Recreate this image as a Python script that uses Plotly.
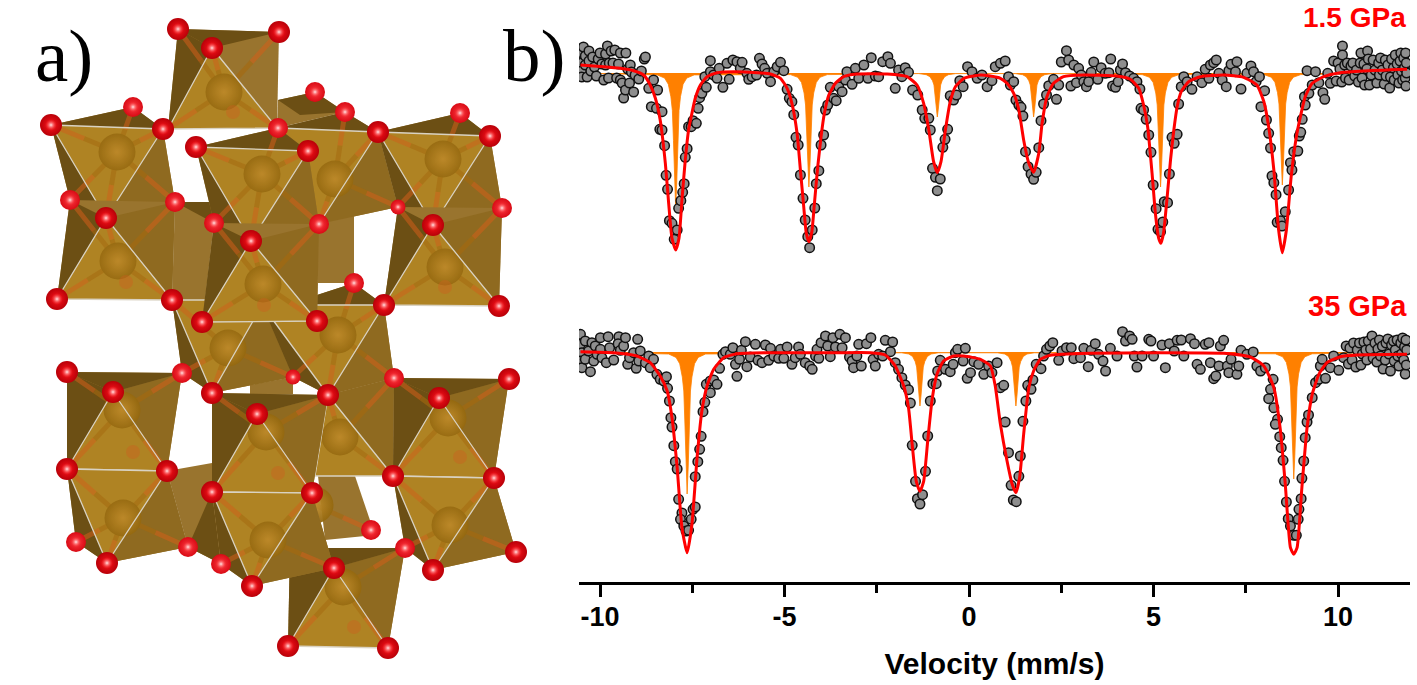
import numpy as np
import plotly.graph_objects as go

# spectra: (velocity mm/s, relative transmission %)
top_points = [
    (-10.5, 2.0), (-10.5, 1.0), (-10.5, 0.2), (-10.5, -0.4), (-10.45, 2.6), (-10.4, 1.7), (-10.4, 0.8), (-10.35, -0.4),
    (-10.3, 2.2), (-10.3, 1.2), (-10.25, 0.2), (-10.2, 1.6), (-10.15, 0.6), (-10.1, -0.3), (-10.05, 1.4), (-10.0, 2.0),
    (-9.95, 0.9), (-9.9, -0.7), (-9.85, 1.9), (-9.85, 0.8), (-9.8, 2.7), (-9.77, -0.5), (-9.75, 1.0), (-9.7, 2.2),
    (-9.65, 1.0), (-9.6, 2.3), (-9.55, -0.5), (-9.5, 0.9), (-9.45, 2.0), (-9.45, -0.7), (-9.4, -1.0), (-9.36, -2.5),
    (-9.31, -1.7), (-9.3, 2.0), (-9.25, 0.4), (-9.2, -1.0), (-9.18, 0.8), (-9.15, 0.1), (-9.09, -1.9), (-9.05, -0.2),
    (-8.95, -0.6), (-8.88, 0.2), (-8.8, 1.4), (-8.77, 1.6), (-8.68, -1.53), (-8.61, -3.37), (-8.55, -0.7), (-8.47, -3.53),
    (-8.44, -1.7), (-8.38, -5.63), (-8.32, -3.87), (-8.32, -5.7), (-8.25, -7.27), (-8.21, -10.23), (-8.17, -11.63),
    (-8.12, -14.77), (-8.05, -15.03), (-7.99, -16.63), (-7.91, -15.7), (-7.87, -13.53), (-7.81, -12.77), (-7.76, -11.93),
    (-7.72, -11.07), (-7.69, -8.43), (-7.64, -7.57), (-7.6, -5.37), (-7.53, -5.37), (-7.48, -4.77), (-7.39, -5.03),
    (-7.34, -3.53), (-7.3, -2.47), (-7.24, -2.03), (-7.16, -0.37), (-7.12, -1.43), (-7.01, 0.13), (-7.01, 1.23),
    (-6.92, -0.2), (-6.83, -0.53), (-6.77, 0.47), (-6.67, -1.43), (-6.56, 0.97), (-6.5, -0.63), (-6.4, 1.3), (-6.29, 1.13),
    (-6.2, 0.47), (-6.15, 1.07), (-6.02, -0.03), (-5.97, -0.63), (-5.88, -0.37), (-5.76, -0.2), (-5.68, 1.47), (-5.61, 0.9),
    (-5.54, 0.47), (-5.47, -0.03), (-5.38, -0.87), (-5.29, 0.13), (-5.2, 0.63), (-5.11, 1.07), (-5.02, 0.23), (-4.93, -1.63),
    (-4.87, -2.53), (-4.8, -2.87), (-4.75, -4.17), (-4.69, -6.43), (-4.63, -7.2), (-4.57, -10.2), (-4.5, -12.53),
    (-4.44, -14.7), (-4.37, -16.37), (-4.32, -17.47), (-4.25, -15.7), (-4.18, -13.5), (-4.14, -11.07), (-4.07, -9.77),
    (-4.01, -7.2), (-3.94, -6.2), (-3.89, -3.7), (-3.83, -3.2), (-3.76, -1.43), (-3.67, -2.53), (-3.6, -2.77), (-3.53, -1.37),
    (-3.44, -1.87), (-3.35, -0.7), (-3.31, 0.13), (-3.17, -1.13), (-3.08, 0.47), (-2.99, -0.53), (-2.85, 0.8), (-2.74, -0.53),
    (-2.65, 1.53), (-2.54, -0.3), (-2.45, -0.37), (-2.34, 1.13), (-2.2, 1.63), (-2.13, 0.97), (-2.0, -1.53), (-1.91, 0.3),
    (-1.82, -0.37), (-1.73, 0.53), (-1.64, 0.07), (-1.53, -1.7), (-1.39, -2.2), (-1.27, -3.7), (-1.2, -4.53), (-1.09, -4.53),
    (-1.05, -5.7), (-0.99, -9.53), (-0.91, -10.43), (-0.86, -11.77), (-0.78, -10.6), (-0.71, -7.43), (-0.65, -6.63),
    (-0.58, -5.63), (-0.51, -2.27), (-0.42, -2.7), (-0.34, -2.2), (-0.25, -0.77), (-0.16, -1.37), (-0.04, 0.63), (0.08, 0.13),
    (0.22, -0.53), (0.35, -0.2), (0.49, -1.37), (0.62, -0.77), (0.71, 0.63), (0.85, 0.97), (0.98, 1.2), (1.07, -0.37),
    (1.12, -1.2), (1.21, -0.87), (1.27, -2.7), (1.35, -3.2), (1.41, -3.43), (1.46, -4.3), (1.53, -7.87), (1.6, -9.37),
    (1.68, -10.1), (1.75, -10.63), (1.82, -9.93), (1.89, -7.47), (1.95, -4.77), (2.02, -3.1), (2.1, -2.2), (2.16, -1.27),
    (2.29, -0.63), (2.37, -2.63), (2.43, -1.2), (2.5, 1.1), (2.64, 2.23), (2.7, 1.3), (2.76, -1.3), (2.84, 0.8), (2.91, -0.97),
    (2.97, 0.47), (3.04, -0.2), (3.11, -0.87), (3.18, -1.37), (3.24, -0.87), (3.31, 0.07), (3.38, 1.1), (3.49, -0.63),
    (3.58, 0.53), (3.69, -0.03), (3.79, 0.03), (3.84, 1.4), (3.89, -1.3), (3.97, -1.43), (4.04, -0.87), (4.1, 0.3), (4.16, 0.9),
    (4.24, 0.03), (4.35, -0.3), (4.46, -0.53), (4.55, -0.87), (4.63, -1.6), (4.66, -3.53), (4.73, -3.7), (4.8, -4.63),
    (4.87, -6.2), (4.93, -7.93), (4.99, -11.2), (5.07, -13.57), (5.12, -15.63), (5.19, -15.87), (5.25, -14.9), (5.29, -12.87),
    (5.38, -12.97), (5.43, -10.1), (5.5, -6.43), (5.56, -7.03), (5.64, -6.13), (5.68, -3.1), (5.75, -1.37), (5.82, -0.37),
    (5.91, -0.87), (6.04, -1.63), (6.18, -0.37), (6.31, -0.97), (6.4, 0.37), (6.5, -0.53), (6.54, 0.8), (6.63, 1.03), (6.7, 1.3),
    (6.77, -0.03), (6.86, -0.7), (6.97, -1.37), (7.04, 0.23), (7.1, 0.87), (7.22, 0.13), (7.26, 1.13), (7.37, -1.6),
    (7.53, -0.03), (7.64, 0.7), (7.71, 0.13), (7.78, -0.87), (7.87, -0.37), (7.91, -3.37), (8.01, -1.77), (8.06, -4.7),
    (8.12, -6.03), (8.17, -7.5), (8.21, -10.3), (8.26, -10.97), (8.32, -12.17), (8.35, -14.93), (8.44, -14.77), (8.48, -15.3),
    (8.57, -13.87), (8.66, -11.7), (8.71, -8.97), (8.75, -9.7), (8.8, -7.87), (8.91, -7.8), (8.95, -6.3), (8.99, -5.93),
    (9.03, -4.63), (9.09, -2.37), (9.11, -3.2), (9.16, 0.23), (9.21, -2.03), (9.3, -1.2), (9.39, 0.13), (9.48, -0.97),
    (9.59, -1.97), (9.64, -2.63), (9.72, -0.03), (9.79, -1.03), (9.88, 1.2), (9.95, -0.8), (10.0, 1.0), (10.05, 0.4),
    (10.1, -0.9), (10.12, 2.7), (10.12, 1.8), (10.18, 0.8), (10.2, -0.5), (10.25, 1.0), (10.3, -0.7), (10.35, 0.7), (10.4, 1.0),
    (10.45, -0.3), (10.5, 0.3), (10.55, -0.9), (10.6, 1.0), (10.62, 2.0), (10.65, -0.5), (10.7, 0.9), (10.72, -1.2), (10.78, 0.4),
    (10.8, 2.2), (10.82, 1.4), (10.85, -1.2), (10.9, -0.2), (10.95, 1.3), (11.0, 0.3), (11.05, -1.0), (11.1, 1.0), (11.12, -0.2),
    (11.15, 1.5), (11.2, 0.3), (11.25, -1.1), (11.28, 1.3), (11.3, -0.3), (11.35, 0.8), (11.4, -1.5), (11.42, -0.4), (11.45, 1.4),
    (11.5, 0.5), (11.52, -0.7), (11.55, 1.8), (11.6, 0.9), (11.62, -0.2), (11.65, -1.0), (11.68, 1.2), (11.7, 2.0), (11.72, 0.2),
    (11.75, -0.7), (11.78, 1.5), (11.8, 0.5), (11.82, -0.5), (11.83, 2.0), (11.84, -1.3), (11.85, 1.0), (11.86, 0.0),
]
bottom_points = [
    (-10.53, 1.77), (-10.53, 0.77), (-10.49, -0.07), (-10.53, -0.9), (-10.49, -1.57), (-10.4, 1.1), (-10.4, -0.73), (-10.26, -1.97),
    (-10.31, 0.1), (-10.22, 0.93), (-10.13, 0.6), (-10.17, -0.9), (-9.99, 1.43), (-10.08, -0.23), (-9.99, 0.27), (-9.95, -0.57),
    (-9.83, -1.07), (-9.78, 1.53), (-9.74, 0.43), (-9.63, -0.8), (-9.49, 1.53), (-9.51, 0.83), (-9.45, 0.17), (-9.36, 0.6),
    (-9.31, 1.43), (-9.25, -1.23), (-9.2, -0.57), (-9.09, -0.07), (-9.02, -1.63), (-8.98, 1.27), (-8.95, -0.9), (-8.91, 0.1),
    (-8.77, -1.07), (-8.68, -0.4), (-8.64, -1.57), (-8.55, -0.73), (-8.46, -2.23), (-8.37, -2.73), (-8.27, -2.9), (-8.2, -2.47),
    (-8.17, -3.63), (-8.12, -4.9), (-8.08, -6.57), (-8.05, -7.5), (-8.0, -9.37), (-7.96, -10.97), (-7.91, -11.7), (-7.87, -14.73),
    (-7.78, -16.1), (-7.82, -16.73), (-7.73, -17.4), (-7.67, -17.9), (-7.6, -17.83), (-7.53, -16.73), (-7.48, -15.73), (-7.42, -15.5),
    (-7.42, -12.47), (-7.35, -10.97), (-7.3, -9.73), (-7.26, -8.43), (-7.21, -5.97), (-7.16, -5.03), (-7.01, -4.07), (-7.12, -3.23),
    (-7.01, -2.9), (-6.92, -2.8), (-6.83, -3.23), (-6.76, -1.63), (-6.67, -0.23), (-6.6, 0.03), (-6.47, -0.23), (-6.4, 0.43),
    (-6.33, -1.23), (-6.29, -2.43), (-6.22, -0.73), (-6.17, 0.17), (-6.06, 1.03), (-6.02, -1.47), (-5.93, -0.5), (-5.79, 0.77),
    (-5.72, -0.83), (-5.61, -1.07), (-5.52, 0.7), (-5.43, -0.83), (-5.38, 0.37), (-5.29, -0.4), (-5.16, -0.63), (-5.11, 0.27),
    (-5.02, -0.63), (-4.93, 0.5), (-4.8, -1.23), (-4.71, -0.57), (-4.62, 0.5), (-4.57, -0.23), (-4.44, -1.07), (-4.32, -1.4),
    (-4.25, -1.73), (-4.16, -0.4), (-4.07, -0.63), (-4.12, 0.27), (-4.01, 0.93), (-3.89, 1.6), (-3.83, 0.6), (-3.76, -0.47),
    (-3.69, 1.43), (-3.62, 0.5), (-3.5, 1.77), (-3.44, 0.43), (-3.35, 1.43), (-3.24, -0.5), (-3.17, -0.9), (-3.13, -1.57),
    (-3.04, -0.4), (-2.99, 0.77), (-2.92, -1.4), (-2.78, 0.83), (-2.66, 1.43), (-2.6, -0.73), (-2.54, -1.4), (-2.45, -0.23),
    (-2.34, -0.4), (-2.27, 1.17), (-2.13, 0.03), (-2.07, 1.0), (-2.0, -1.07), (-1.91, -1.73), (-1.82, -2.57), (-1.73, -3.3),
    (-1.64, -3.77), (-1.59, -5.1), (-1.54, -9.33), (-1.45, -12.93), (-1.4, -14.67), (-1.33, -15.2), (-1.26, -14.27), (-1.18, -11.93),
    (-1.12, -8.4), (-1.05, -4.9), (-0.98, -3.17), (-0.89, -3.17), (-0.85, -1.9), (-0.78, -0.83), (-0.64, -1.73), (-0.51, -1.97),
    (-0.43, -1.23), (-0.37, -0.07), (-0.31, 0.27), (-0.16, -0.9), (-0.1, 0.37), (-0.05, -2.63), (0.04, -2.07), (0.13, -0.97),
    (0.26, -1.23), (0.4, -2.23), (0.53, -1.4), (0.76, -1.07), (0.62, -2.07), (0.85, -3.57), (0.94, -3.33), (0.98, -7.0),
    (1.07, -10.07), (1.14, -13.33), (1.2, -14.8), (1.28, -14.97), (1.35, -12.43), (1.39, -10.4), (1.46, -6.93), (1.54, -4.9),
    (1.59, -3.33), (1.68, -3.73), (1.73, -2.8), (1.82, -1.23), (1.95, -1.67), (2.02, -0.4), (2.1, 0.27), (2.19, 0.6), (2.27, 0.93),
    (2.43, -0.83), (2.52, 0.1), (2.64, 0.43), (2.77, 0.43), (2.84, -0.67), (3.02, -0.57), (3.11, 0.37), (3.23, -1.47), (3.31, 0.17),
    (3.42, 0.83), (3.51, -0.23), (3.63, -0.9), (3.7, -1.9), (3.83, 0.37), (4.01, -0.4), (4.16, 2.03), (4.24, 1.1), (4.35, 1.6),
    (4.42, 1.27), (4.48, -0.4), (4.55, -1.5), (4.69, -0.4), (4.87, 1.27), (4.93, 1.1), (5.0, -0.4), (5.23, 0.7), (5.32, -1.57),
    (5.43, 0.83), (5.56, 0.1), (5.64, 1.17), (5.75, 1.2), (5.82, -0.4), (6.0, 1.33), (6.11, 0.83), (6.18, -1.23), (6.27, -1.73),
    (6.4, 0.77), (6.5, 0.93), (6.54, -1.07), (6.63, -2.67), (6.69, -2.4), (6.77, -1.4), (6.81, 0.6), (6.9, 1.17), (7.0, -1.4),
    (7.04, -2.07), (7.1, -0.73), (7.26, -2.23), (7.31, -1.4), (7.37, 0.17), (7.53, -0.23), (7.7, 0.0), (7.8, -1.4), (7.9, -1.9),
    (8.03, -1.57), (8.17, -3.73), (8.24, -2.73), (8.12, -4.67), (8.26, -5.57), (8.36, -6.73), (8.3, -7.23), (8.42, -8.47),
    (8.46, -9.57), (8.51, -10.83), (8.55, -12.93), (8.6, -15.0), (8.65, -16.67), (8.71, -17.4), (8.8, -18.33), (8.87, -18.33),
    (8.92, -16.73), (8.94, -15.73), (9.0, -14.67), (9.02, -12.63), (9.07, -10.9), (9.11, -8.57), (9.16, -7.0), (9.2, -6.3),
    (9.3, -4.57), (9.39, -3.07), (9.48, -2.73), (9.52, -1.4), (9.57, -0.73), (9.66, -2.63), (9.79, -1.57), (9.88, -0.4),
    (10.02, -1.83), (10.15, -0.57), (10.22, 0.6), (10.28, -1.2), (10.32, 0.4), (10.38, -0.8), (10.42, 0.9), (10.48, -1.5),
    (10.52, 0.2), (10.58, 0.9), (10.62, -1.3), (10.66, -0.2), (10.7, 1.0), (10.75, 0.2), (10.78, -0.8), (10.82, 1.1), (10.88, 0.3),
    (10.92, 1.6), (10.95, -0.6), (11.0, 0.9), (11.05, -1.0), (11.08, 0.3), (11.12, 1.2), (11.15, -0.4), (11.2, 0.6), (11.22, -1.7),
    (11.28, -0.8), (11.3, 0.9), (11.35, 1.3), (11.38, -0.2), (11.42, -1.9), (11.45, 0.7), (11.5, 1.1), (11.52, -0.9), (11.55, 0.2),
    (11.6, 1.2), (11.62, -0.4), (11.65, -1.4), (11.7, 0.9), (11.72, -0.2), (11.75, 1.4), (11.78, -0.8), (11.8, 0.5), (11.82, -2.2),
    (11.84, 1.2), (11.85, -1.3), (11.86, 0.2),
]
top_fit = [
    (-10.53, 0.8), (-9.9, 0.63), (-9.45, 0.47), (-9.09, 0.23), (-8.82, -0.2), (-8.64, -1.2), (-8.5, -2.53), (-8.37, -4.7),
    (-8.23, -9.03), (-8.14, -13.03), (-8.05, -16.53), (-7.95, -17.7), (-7.86, -16.53), (-7.78, -12.7), (-7.69, -8.7), (-7.6, -5.7),
    (-7.51, -4.03), (-7.42, -2.53), (-7.28, -1.2), (-7.1, -0.37), (-6.83, 0.03), (-6.38, 0.13), (-5.75, 0.03), (-5.38, -0.1),
    (-5.11, -0.53), (-4.93, -1.53), (-4.8, -3.03), (-4.66, -6.03), (-4.57, -9.7), (-4.48, -13.37), (-4.41, -16.03), (-4.34, -16.87),
    (-4.26, -15.87), (-4.19, -13.03), (-4.1, -9.37), (-4.01, -6.37), (-3.92, -4.03), (-3.8, -2.2), (-3.62, -1.03), (-3.4, -0.37),
    (-3.04, -0.1), (-2.22, -0.1), (-1.68, -0.37), (-1.41, -1.2), (-1.23, -3.03), (-1.09, -5.7), (-0.96, -8.87), (-0.86, -9.97),
    (-0.76, -8.87), (-0.64, -5.7), (-0.51, -2.87), (-0.37, -1.37), (-0.14, -0.53), (0.31, -0.2), (0.58, -0.3), (0.85, -0.53),
    (1.03, -1.03), (1.21, -2.03), (1.35, -3.7), (1.48, -6.7), (1.62, -9.03), (1.75, -9.93), (1.89, -8.03), (1.98, -5.03),
    (2.11, -2.37), (2.29, -1.03), (2.56, -0.37), (3.11, -0.2), (4.01, -0.3), (4.37, -0.63), (4.6, -1.53), (4.73, -3.2), (4.84, -5.37),
    (4.96, -10.03), (5.05, -14.03), (5.14, -16.53), (5.2, -17.03), (5.27, -16.03), (5.37, -12.37), (5.46, -8.7), (5.55, -5.7),
    (5.64, -3.37), (5.75, -1.87), (5.95, -0.87), (6.27, -0.37), (6.9, -0.2), (7.44, -0.43), (7.8, -1.2), (7.99, -2.87), (8.12, -5.37),
    (8.26, -9.7), (8.39, -15.7), (8.49, -17.97), (8.6, -15.7), (8.73, -10.37), (8.87, -6.37), (8.98, -4.37), (9.11, -2.37),
    (9.3, -1.03), (9.61, -0.37), (10.06, 0.03), (10.7, 0.2), (11.87, 0.37),
]
bottom_fit = [
    (-10.53, 0.03), (-9.63, -0.07), (-9.0, -0.4), (-8.64, -1.07), (-8.37, -2.4), (-8.18, -3.9), (-8.05, -6.57), (-7.91, -11.57),
    (-7.78, -17.57), (-7.64, -20.07), (-7.51, -17.23), (-7.37, -10.57), (-7.24, -5.9), (-7.1, -3.4), (-6.92, -1.73), (-6.65, -0.57),
    (-6.29, -0.17), (-5.38, -0.07), (-3.58, -0.07), (-2.67, -0.07), (-2.27, -0.3), (-2.0, -1.4), (-1.77, -3.4), (-1.64, -5.57),
    (-1.54, -9.27), (-1.43, -12.93), (-1.33, -13.93), (-1.23, -12.93), (-1.12, -8.9), (-1.0, -4.73), (-0.87, -2.23), (-0.69, -0.9),
    (-0.42, -0.4), (-0.14, -0.4), (0.31, -0.73), (0.58, -1.4), (0.71, -3.4), (0.85, -7.23), (1.03, -10.9), (1.17, -13.23),
    (1.27, -14.07), (1.37, -12.57), (1.48, -8.23), (1.62, -3.57), (1.75, -1.9), (1.93, -0.73), (2.2, -0.33), (3.29, -0.13),
    (5.09, -0.07), (6.9, -0.13), (7.62, -0.5), (7.99, -1.4), (8.26, -3.57), (8.44, -7.9), (8.57, -13.23), (8.71, -19.57),
    (8.8, -20.23), (8.89, -19.57), (9.02, -13.57), (9.16, -7.57), (9.3, -4.23), (9.48, -2.23), (9.7, -1.07), (10.06, -0.47),
    (10.51, -0.3), (11.87, -0.23),
]
top_site = [
    (-10.57, 0), (-8.45, -0.19), (-8.25, -0.51), (-8.15, -1.12), (-8.08, -2.37), (-8.04, -3.74), (-8.01, -6.75), (-7.98, -10.8),
    (-7.95, -13.5), (-7.92, -10.8), (-7.89, -6.75), (-7.86, -3.74), (-7.82, -2.37), (-7.75, -1.12), (-7.65, -0.51), (-7.45, -0.19),
    (-4.84, -0.16), (-4.64, -0.43), (-4.54, -0.95), (-4.47, -2.0), (-4.43, -3.2), (-4.4, -5.7), (-4.37, -9.1), (-4.34, -11.4),
    (-4.31, -9.1), (-4.28, -5.7), (-4.25, -3.2), (-4.21, -2.0), (-4.14, -0.95), (-4.04, -0.43), (-3.84, -0.16),
    (-1.36, -0.06), (-1.16, -0.17), (-1.06, -0.37), (-0.99, -0.77), (-0.95, -1.2), (-0.92, -2.2), (-0.89, -3.5), (-0.86, -4.4),
    (-0.83, -3.5), (-0.8, -2.2), (-0.77, -1.2), (-0.73, -0.77), (-0.66, -0.37), (-0.56, -0.17), (-0.36, -0.06),
    (1.25, -0.06), (1.45, -0.17), (1.55, -0.37), (1.62, -0.77), (1.66, -1.2), (1.69, -2.2), (1.72, -3.5), (1.75, -4.4),
    (1.78, -3.5), (1.81, -2.2), (1.84, -1.2), (1.88, -0.77), (1.95, -0.37), (2.05, -0.17), (2.25, -0.06),
    (4.69, -0.16), (4.89, -0.43), (4.99, -0.95), (5.06, -2.0), (5.1, -3.2), (5.13, -5.7), (5.16, -9.1), (5.19, -11.4),
    (5.22, -9.1), (5.25, -5.7), (5.28, -3.2), (5.32, -2.0), (5.39, -0.95), (5.49, -0.43), (5.69, -0.16),
    (7.99, -0.16), (8.19, -0.42), (8.29, -0.93), (8.36, -1.97), (8.4, -3.1), (8.43, -5.6), (8.46, -9.0), (8.49, -11.2),
    (8.52, -9.0), (8.55, -5.6), (8.58, -3.1), (8.62, -1.97), (8.69, -0.93), (8.79, -0.42), (8.99, -0.16), (11.87, 0),
]
bottom_site = [
    (-10.57, 0), (-8.14, -0.2), (-7.94, -0.54), (-7.84, -1.18), (-7.77, -2.5), (-7.73, -3.9), (-7.7, -7.1), (-7.67, -11.4),
    (-7.64, -14.2), (-7.61, -11.4), (-7.58, -7.1), (-7.55, -3.9), (-7.51, -2.5), (-7.44, -1.18), (-7.34, -0.54), (-7.14, -0.2),
    (-1.83, -0.08), (-1.63, -0.2), (-1.53, -0.45), (-1.46, -0.95), (-1.42, -1.5), (-1.39, -2.7), (-1.36, -4.3), (-1.33, -5.4),
    (-1.3, -4.3), (-1.27, -2.7), (-1.24, -1.5), (-1.2, -0.95), (-1.13, -0.45), (-1.03, -0.2), (-0.83, -0.08),
    (0.77, -0.08), (0.97, -0.2), (1.07, -0.45), (1.14, -0.95), (1.18, -1.5), (1.21, -2.7), (1.24, -4.3), (1.27, -5.4),
    (1.3, -4.3), (1.33, -2.7), (1.36, -1.5), (1.4, -0.95), (1.47, -0.45), (1.57, -0.2), (1.77, -0.08),
    (8.3, -0.18), (8.5, -0.48), (8.6, -1.05), (8.67, -2.2), (8.71, -3.5), (8.74, -6.35), (8.77, -10.2), (8.8, -12.7),
    (8.83, -10.2), (8.86, -6.35), (8.89, -3.5), (8.93, -2.2), (9.0, -1.05), (9.1, -0.48), (9.3, -0.18), (11.87, 0),
]
bottom_offset = -27.9
major_ticks = [-10, -5, 0, 5, 10]

# crystal structure panel, measured in picture pixels
# hull, dark faces, side faces, front face, Fe centre, bonded oxygens
octahedra = [
    ([(278, 100), (315, 92), (345, 112), (277, 128)], [[(278, 100), (315, 92), (345, 112), (300, 115)]], [], None, None, []),
    ([(318, 224), (354, 215), (354, 283), (318, 283)], [], [], None, None, []),
    ([(318, 476), (355, 476), (375, 535), (325, 540)], [], [], None, (315, 505), [(371, 530)]),
    ([(250, 385), (293, 377), (293, 394), (250, 394)], [], [], None, None, []),
    ([(178, 29), (279, 32), (277, 128), (168, 129)], [[(178, 29), (279, 32), (212, 48)], [(178, 29), (212, 48), (168, 129)]], [],
     [(212, 48), (168, 129), (277, 128)], (224, 92), [(178, 29), (279, 32), (212, 48), (168, 129), (277, 128)]),
    ([(175, 202), (228, 202), (214, 223), (205, 300), (172, 300)], [[(175, 202), (228, 202), (214, 223)]], [], None, None, []),
    ([(172, 300), (265, 300), (293, 377), (212, 393), (182, 373)], [[(172, 300), (212, 393), (182, 373)]], [[(265, 300), (293, 377), (212, 393)]],
     [(172, 300), (265, 300), (212, 393)], (228, 348), [(172, 300), (212, 393), (293, 377), (182, 373)]),
    ([(262, 305), (317, 295), (354, 283), (384, 305), (394, 378), (328, 395), (293, 377)], [[(317, 295), (354, 283), (384, 305), (317, 321)], [(262, 305), (328, 395), (293, 377)]],
     [[(384, 305), (394, 378), (328, 395)]], [(262, 305), (384, 305), (328, 395)], (338, 335), [(354, 283), (384, 305), (328, 395), (394, 378), (293, 377)]),
    ([(328, 395), (394, 378), (393, 476), (315, 476)], [], [[(328, 395), (394, 378), (393, 476)]], [(328, 395), (393, 476), (315, 476)], (340, 437),
     [(328, 395), (394, 378), (393, 476)]),
    ([(51, 125), (133, 107), (163, 129), (175, 202), (106, 218), (70, 200)], [[(51, 125), (133, 107), (163, 129)], [(51, 125), (106, 218), (70, 200)]],
     [[(163, 129), (175, 202), (106, 218)]], [(51, 125), (163, 129), (106, 218)], (117, 152), [(51, 125), (133, 107), (163, 129), (70, 200), (106, 218), (175, 202)]),
    ([(70, 200), (175, 202), (172, 300), (57, 299)], [[(70, 200), (106, 218), (57, 299)]], [[(106, 218), (175, 202), (172, 300)]],
     [(106, 218), (57, 299), (172, 300)], (118, 261), [(57, 299), (172, 300), (106, 218), (70, 200), (175, 202)]),
    ([(278, 128), (345, 112), (378, 132), (398, 207), (319, 224), (308, 151)], [[(278, 128), (345, 112), (378, 132)]], [[(378, 132), (398, 207), (319, 224)]],
     [(278, 128), (378, 132), (319, 224)], (335, 179), [(345, 112), (378, 132), (398, 207), (319, 224)]),
    ([(378, 132), (460, 113), (490, 136), (502, 208), (433, 225), (398, 207)], [[(378, 132), (460, 113), (490, 136)], [(378, 132), (433, 225), (398, 207)]],
     [[(490, 136), (502, 208), (433, 225)]], [(378, 132), (490, 136), (433, 225)], (443, 159), [(378, 132), (460, 113), (490, 136), (398, 207), (433, 225), (502, 208)]),
    ([(398, 207), (502, 208), (499, 306), (384, 305)], [[(398, 207), (433, 225), (384, 305)]], [[(433, 225), (502, 208), (499, 306)]],
     [(433, 225), (384, 305), (499, 306)], (445, 267), [(398, 207), (433, 225), (502, 208), (384, 305), (499, 306)]),
    ([(196, 147), (278, 128), (308, 151), (319, 224), (251, 241), (214, 223)], [[(196, 147), (278, 128), (308, 151)], [(196, 147), (251, 241), (214, 223)]],
     [[(308, 151), (319, 224), (251, 241)]], [(196, 147), (308, 151), (251, 241)], (262, 174), [(196, 147), (278, 128), (308, 151), (214, 223), (251, 241), (319, 224)]),
    ([(214, 223), (319, 224), (317, 321), (202, 322)], [[(214, 223), (251, 241), (202, 322)]], [[(251, 241), (319, 224), (317, 321)]],
     [(251, 241), (202, 322), (317, 321)], (263, 284), [(214, 223), (251, 241), (319, 224), (202, 322), (317, 321)]),
    ([(167, 471), (212, 463), (212, 492), (221, 564), (188, 547)], [[(188, 547), (212, 492), (221, 564)]], [], None, None, []),
    ([(290, 548), (405, 548), (388, 648), (288, 646)], [[(290, 548), (405, 548), (334, 568)], [(290, 548), (334, 568), (288, 646)]], [[(405, 548), (334, 568), (388, 648)]],
     [(334, 568), (288, 646), (388, 648)], (343, 587), [(405, 548), (334, 568), (288, 646), (388, 648)]),
    ([(67, 372), (182, 373), (167, 471), (67, 469)], [[(67, 372), (182, 373), (113, 392)], [(67, 372), (113, 392), (67, 469)]], [[(182, 373), (113, 392), (167, 471)]],
     [(113, 392), (67, 469), (167, 471)], (122, 410), [(67, 372), (182, 373), (113, 392), (67, 469), (167, 471)]),
    ([(67, 469), (167, 471), (188, 547), (107, 563), (76, 542)], [[(67, 469), (107, 563), (76, 542)]], [[(167, 471), (188, 547), (107, 563)]],
     [(67, 469), (167, 471), (107, 563)], (123, 518), [(67, 469), (167, 471), (188, 547), (107, 563), (76, 542)]),
    ([(212, 393), (328, 395), (312, 493), (212, 492)], [[(212, 393), (328, 395), (257, 414)], [(212, 393), (257, 414), (212, 492)]], [[(328, 395), (257, 414), (312, 493)]],
     [(257, 414), (212, 492), (312, 493)], (266, 432), [(212, 393), (328, 395), (257, 414), (212, 492), (312, 493)]),
    ([(212, 492), (312, 493), (334, 568), (252, 586), (221, 564)], [[(212, 492), (252, 586), (221, 564)]], [[(312, 493), (334, 568), (252, 586)]],
     [(212, 492), (312, 493), (252, 586)], (268, 540), [(212, 492), (312, 493), (334, 568), (252, 586), (221, 564)]),
    ([(394, 378), (509, 379), (494, 478), (393, 476)], [[(394, 378), (509, 379), (439, 398)], [(394, 378), (439, 398), (393, 476)]], [[(509, 379), (439, 398), (494, 478)]],
     [(439, 398), (393, 476), (494, 478)], (448, 418), [(394, 378), (509, 379), (439, 398), (393, 476), (494, 478)]),
    ([(393, 476), (494, 478), (516, 552), (433, 570), (405, 548)], [[(393, 476), (433, 570), (405, 548)]], [[(494, 478), (516, 552), (433, 570)]],
     [(393, 476), (494, 478), (433, 570)], (450, 525), [(393, 476), (494, 478), (516, 552), (433, 570), (405, 548)]),
]
hidden_atoms = [(133, 452), (278, 473), (460, 457), (354, 627), (126, 282), (264, 305), (445, 287), (233, 112)]
front_atoms = [
    (212, 48), (178, 29), (279, 32), (51, 125), (163, 129), (106, 218), (57, 299), (172, 300), (196, 147), (308, 151), (251, 241),
    (202, 322), (317, 321), (378, 132), (490, 136), (433, 225), (384, 305), (499, 306), (113, 392), (67, 372), (67, 469), (167, 471),
    (107, 563), (212, 393), (257, 414), (328, 395), (212, 492), (312, 493), (252, 586), (334, 568), (439, 398), (509, 379), (393, 476),
    (494, 478), (433, 570), (516, 552), (288, 646), (388, 648),
]
back_atoms = [
    (133, 107), (70, 200), (175, 202), (315, 92), (345, 112), (460, 113), (278, 128), (354, 283), (182, 373), (76, 542), (188, 547),
    (221, 564), (502, 208), (319, 224), (214, 223), (394, 378), (405, 548), (371, 530),
]
small_atoms = [(398, 207), (293, 377)]

FACE_HULL = "#99742e"
FACE_DARK = "#6c4f14"
FACE_SIDE = "#8f6a20"
FACE_FRONT = "#b08424"
EDGE = "#d9d2c2"


def xs(points):
    return [p[0] for p in points]


def ys(points):
    return [p[1] for p in points]


def add_face(fig, points, color, edge=None):
    closed = list(points) + [points[0]]
    fig.add_trace(go.Scatter(
        x=xs(closed), y=ys(closed), xaxis="x2", yaxis="y2", mode="lines", fill="toself", fillcolor=color,
        line={"color": edge or color, "width": 1.3 if edge else 0}, hoverinfo="skip", showlegend=False,
    ))


def add_bond(fig, start, end, color, width):
    fig.add_trace(go.Scatter(
        x=[start[0], end[0]], y=[start[1], end[1]], xaxis="x2", yaxis="y2", mode="lines", hoverinfo="skip", showlegend=False,
        line={"color": color, "width": width},
    ))


def add_atoms(fig, points, size, base, glow):
    fig.add_trace(go.Scatter(
        x=xs(points), y=ys(points), xaxis="x2", yaxis="y2", mode="markers", hoverinfo="skip", showlegend=False,
        marker={"size": size, "color": base, "gradient": {"type": "radial", "color": glow}, "line": {"width": 0}},
    ))
    fig.add_trace(go.Scatter(
        x=xs(points), y=ys(points), xaxis="x2", yaxis="y2", mode="markers", hoverinfo="skip", showlegend=False,
        marker={"size": size * 0.55, "color": "rgba(255,40,40,0)", "gradient": {"type": "radial", "color": "rgba(255,240,240,0.95)"}, "line": {"width": 0}},
    ))


fig = go.Figure()

for hull, dark_faces, side_faces, front, fe, oxygens in octahedra:
    add_face(fig, hull, FACE_HULL)
    for face in side_faces:
        add_face(fig, face, FACE_SIDE)
    for face in dark_faces:
        add_face(fig, face, FACE_DARK)
    if front:
        add_face(fig, front, FACE_FRONT)
    if fe:
        for ox in oxygens:
            # the bond goes orange only on the half next to the oxygen
            mid = ((fe[0] + ox[0]) / 2, (fe[1] + ox[1]) / 2)
            add_bond(fig, fe, mid, "rgba(165,105,15,0.6)", 5)
            add_bond(fig, mid, ox, "rgba(210,95,25,0.55)", 5)
        fig.add_trace(go.Scatter(
            x=[fe[0]], y=[fe[1]], xaxis="x2", yaxis="y2", mode="markers", hoverinfo="skip", showlegend=False,
            marker={"size": 37, "color": "#94680f", "opacity": 0.95, "gradient": {"type": "radial", "color": "#c08c2c"}, "line": {"width": 0}},
        ))
    if front:
        add_face(fig, front, "rgba(173,127,32,0.15)", EDGE)

fig.add_trace(go.Scatter(
    x=xs(hidden_atoms), y=ys(hidden_atoms), xaxis="x2", yaxis="y2", mode="markers", hoverinfo="skip", showlegend=False,
    marker={"size": 14, "color": "rgba(205,95,30,0.4)", "line": {"width": 0}},
))
add_atoms(fig, small_atoms, 15, "#d80a14", "#ff3c44")
add_atoms(fig, back_atoms, 20, "#d80a14", "#ff3c44")
add_atoms(fig, front_atoms, 22, "#b80008", "#ff141c")

# spectra
for points, fit, site, offset in [
    (top_points, top_fit, top_site, 0.0),
    (bottom_points, bottom_fit, bottom_site, bottom_offset),
]:
    site_x, site_y = np.array(site).T
    point_x, point_y = np.array(points).T
    fit_x, fit_y = np.array(fit).T
    fig.add_trace(go.Scatter(
        x=[site_x[0], *site_x, site_x[-1]], y=[offset, *(site_y + offset), offset], mode="lines", fill="toself",
        fillcolor="#ff8000", line={"color": "#ff8000", "width": 0.8}, hoverinfo="skip", showlegend=False,
    ))
    fig.add_trace(go.Scatter(
        x=point_x, y=point_y + offset, mode="markers", showlegend=False,
        marker={"size": 9.5, "color": "#8e8e8e", "line": {"color": "#111111", "width": 1.5}},
    ))
    fig.add_trace(go.Scatter(
        x=fit_x, y=fit_y + offset, mode="lines", showlegend=False,
        line={"color": "#ff0000", "width": 3, "shape": "spline", "smoothing": 0.5},
    ))

FONT = "Liberation Sans"
fig.update_layout(
    width=1417,
    height=685,
    margin={"l": 0, "r": 0, "t": 0, "b": 0},
    paper_bgcolor="white",
    plot_bgcolor="rgba(0,0,0,0)",
    showlegend=False,
    xaxis={
        "domain": [579 / 1417, 1410 / 1417], "range": [-10.57, 11.95], "anchor": "y", "showgrid": False, "zeroline": False,
        "showline": True, "linecolor": "black", "linewidth": 3, "ticks": "outside", "ticklen": 12, "tickwidth": 2.5, "tickcolor": "black",
        "tickvals": major_ticks, "ticktext": [str(t) for t in major_ticks], "ticklabelstandoff": -3,
        "tickfont": {"family": FONT, "size": 27, "color": "black", "weight": "bold"},
        "minor": {"tickvals": [-7.5, -2.5, 2.5, 7.5], "ticks": "outside", "ticklen": 8, "tickwidth": 2.5, "tickcolor": "black"},
        "title": {"text": "Velocity (mm/s)", "font": {"family": FONT, "size": 30, "color": "black", "weight": "bold"}, "standoff": 22},
    },
    yaxis={"domain": [(685 - 582) / 685, (685 - 30) / 685], "range": [-50.9, 4.3], "visible": False},
    xaxis2={"domain": [0, 1], "range": [0, 1417], "visible": False, "anchor": "y2"},
    yaxis2={"domain": [0, 1], "range": [685, 0], "visible": False, "anchor": "x2"},
    annotations=[
        {"text": "a)", "x": 33, "y": 55, "xref": "x2", "yref": "y2", "xanchor": "left", "yanchor": "middle", "showarrow": False,
         "font": {"family": "Liberation Serif", "size": 75, "color": "black"}},
        {"text": "b)", "x": 501, "y": 55, "xref": "x2", "yref": "y2", "xanchor": "left", "yanchor": "middle", "showarrow": False,
         "font": {"family": "Liberation Serif", "size": 75, "color": "black"}},
        {"text": "1.5 GPa", "x": 1408, "y": 17, "xref": "x2", "yref": "y2", "xanchor": "right", "yanchor": "middle", "showarrow": False,
         "font": {"family": FONT, "size": 28, "color": "#ff0000", "weight": "bold"}},
        {"text": "35 GPa", "x": 1409, "y": 306, "xref": "x2", "yref": "y2", "xanchor": "right", "yanchor": "middle", "showarrow": False,
         "font": {"family": FONT, "size": 29, "color": "#ff0000", "weight": "bold"}},
    ],
)

fig.write_html("out.html", config={"displayModeBar": False}, post_script="document.body.style.margin='0';")
